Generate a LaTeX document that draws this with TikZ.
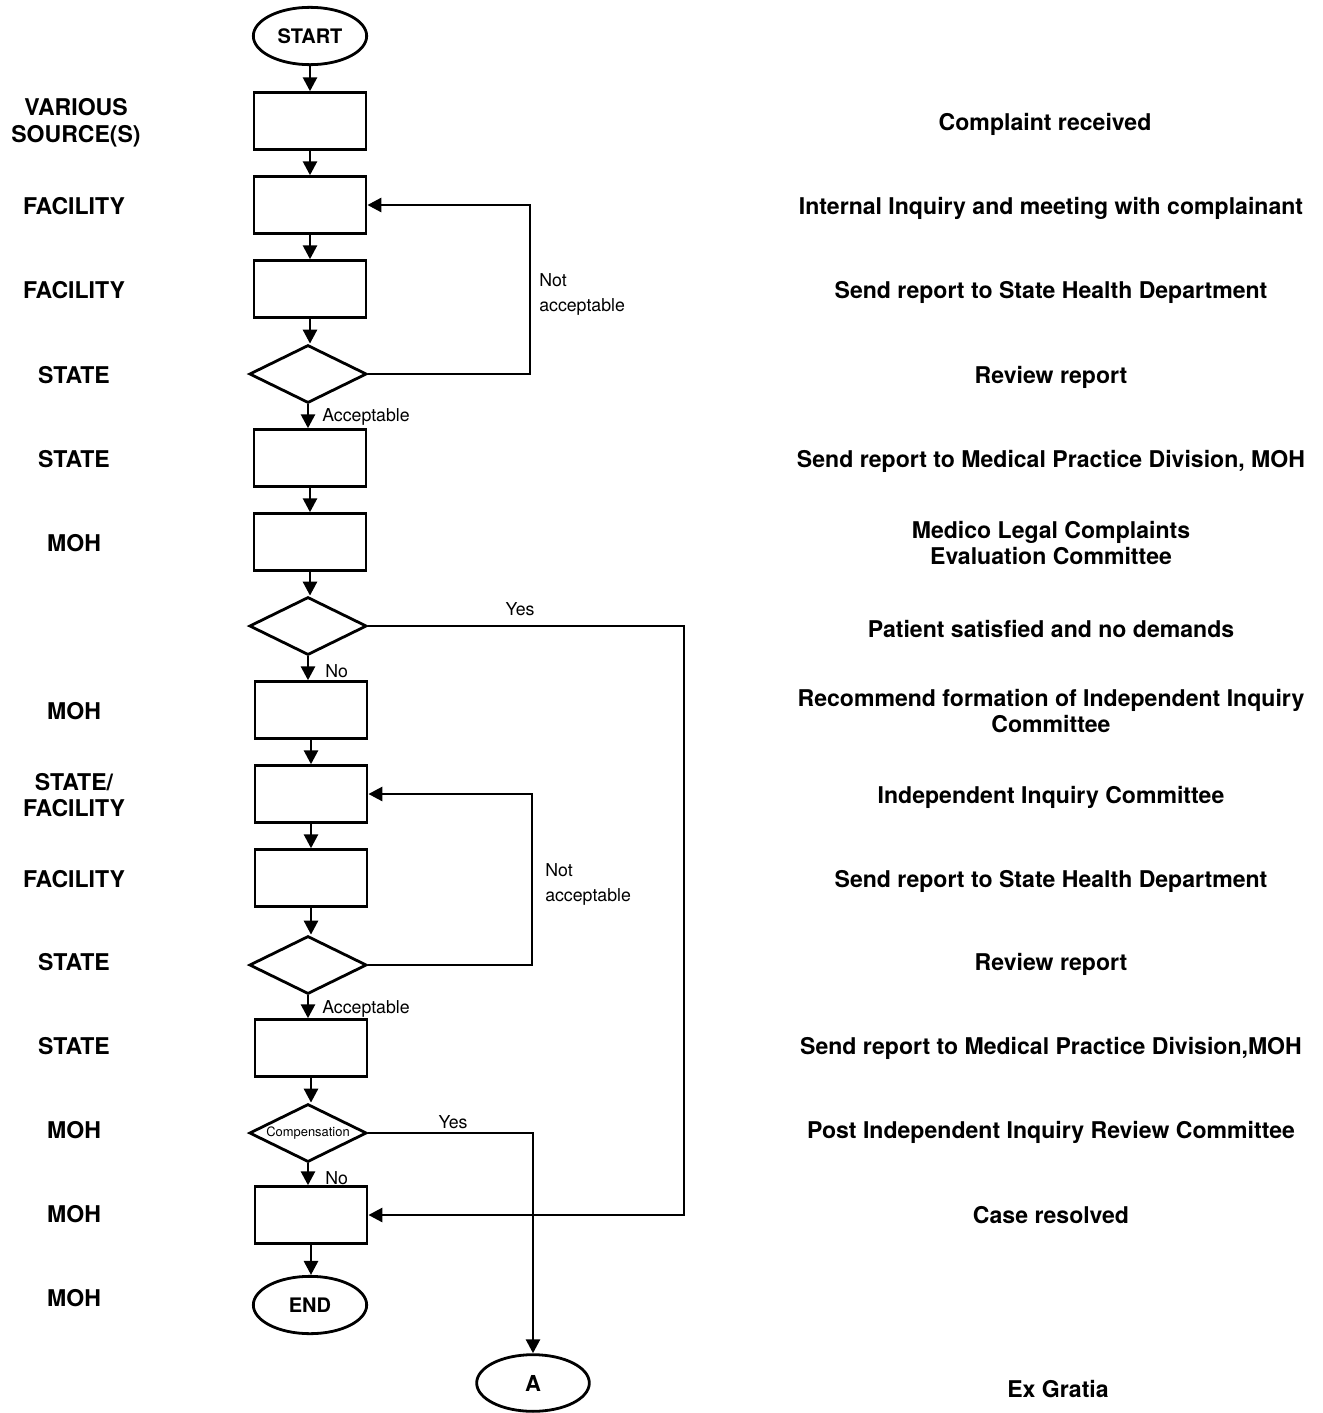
\documentclass[tikz,border=0pt]{standalone}
\usepackage{fontspec}
\setmainfont{TeX Gyre Heros}
\usetikzlibrary{shapes.geometric,arrows.meta}
\begin{document}
\begin{tikzpicture}[x=0.75pt,y=-0.75pt,
  every node/.style={inner sep=0pt},
  stepbox/.style={draw,line width=2.1pt,rectangle,minimum width=84pt,minimum height=42.5pt},
  decision/.style={draw,line width=2.1pt,diamond,shape aspect=2,minimum width=88pt,minimum height=43.5pt,font=\fontsize{9.7pt}{11pt}\selectfont},
  terminal/.style={draw,line width=2.1pt,ellipse,minimum width=85pt,minimum height=43pt,font=\fontsize{15pt}{18pt}\selectfont\bfseries},
  role/.style={align=center,font=\fontsize{17.3pt}{20pt}\selectfont\bfseries},
  task/.style={align=center,font=\fontsize{17.3pt}{20pt}\selectfont\bfseries},
  note/.style={align=left,font=\fontsize{13.3pt}{18.8pt}\selectfont},
  flow/.style={line width=2.1pt,-{Triangle[width=10.5pt,length=10.5pt]}}]
\useasboundingbox (0,0) rectangle (1323,1413);

% main column
\node[terminal] (start) at (310,36) {START};
\node[stepbox] (b1) at (310,121) {};
\node[stepbox] (b2) at (310,205) {};
\node[stepbox] (b3) at (310,289) {};
\node[decision] (d1) at (308,374) {};
\node[stepbox] (b4) at (310,458) {};
\node[stepbox] (b5) at (310,542) {};
\node[decision] (d2) at (308,626) {};
\node[stepbox] (b6) at (311,710) {};
\node[stepbox] (b7) at (311,794) {};
\node[stepbox] (b8) at (311,878) {};
\node[decision] (d3) at (308,965) {};
\node[stepbox] (b9) at (311,1048) {};
\node[decision] (d4) at (308,1133) {Compensation};
\node[stepbox] (b10) at (311,1215) {};
\node[terminal] (end) at (310,1305) {END};
\node[terminal,minimum width=84.5pt,minimum height=42.5pt,font=\fontsize{16.5pt}{18pt}\selectfont\bfseries] (exg) at (533,1383) {A};

% vertical flow
\foreach \a/\b in {start/b1,b1/b2,b2/b3,b3/d1,d1/b4,b4/b5,b5/d2,d2/b6,b6/b7,b7/b8,b8/d3,d3/b9,b9/d4,d4/b10,b10/end}
  \draw[flow] (\a.south) -- (\a.south |- \b.north);

% feedback and bypass routes
\coordinate (c1) at (530,205);
\coordinate (c2) at (684,1215);
\coordinate (c3) at (532,794);
\draw[flow] (d1.east) -| (c1) -- (b2.east);
\draw[flow] (d3.east) -| (c3) -- (b7.east);
\draw[flow] (d2.east) -| (c2) -- (b10.east);
\draw[flow] (d4.east) -| (exg.north);

% connector labels
\node[note,anchor=west] (n1) at (539,294) {Not\\acceptable};
\node[note,anchor=west] (n2) at (545,884) {Not\\acceptable};
\node[note,anchor=west] (acc1) at (322,417) {Acceptable};
\node[note,anchor=west] (acc2) at (322,1009) {Acceptable};
\node[note] (yes1) at (520,609) {Yes};
\node[note] (yes2) at (453,1122) {Yes};
\node[note,anchor=west] (no1) at (325,671) {No};
\node[note,anchor=west] (no2) at (325,1178) {No};

% responsible party
\node[role] (r1) at (76,123) {VARIOUS\\SOURCE(S)};
\node[role] (r2) at (74,206) {FACILITY};
\node[role] (r3) at (74,290) {FACILITY};
\node[role] (r4) at (74,375) {STATE};
\node[role] (r5) at (74,459) {STATE};
\node[role] (r6) at (74,543) {MOH};
\node[role] (r7) at (74,711) {MOH};
\node[role] (r8) at (74,795) {STATE/\\FACILITY};
\node[role] (r9) at (74,879) {FACILITY};
\node[role] (r10) at (74,962) {STATE};
\node[role] (r11) at (74,1046) {STATE};
\node[role] (r12) at (74,1130) {MOH};
\node[role] (r13) at (74,1214) {MOH};
\node[role] (r14) at (74,1298) {MOH};

% activity descriptions
\node[task] (t1) at (1045,124) {Complaint received};
\node[task] (t2) at (1051,208) {Internal Inquiry and meeting with complainant};
\node[task] (t3) at (1051,292) {Send report to State Health Department};
\node[task] (t4) at (1051,377) {Review report};
\node[task] (t5) at (1051,461) {Send report to Medical Practice Division, MOH};
\node[task] (t6) at (1051,543) {Medico Legal Complaints\\Evaluation Committee};
\node[task] (t7) at (1051,629) {Patient satisfied and no demands};
\node[task] (t8) at (1051,711) {Recommend formation of Independent Inquiry\\Committee};
\node[task] (t9) at (1051,797) {Independent Inquiry Committee};
\node[task] (t10) at (1051,881) {Send report to State Health Department};
\node[task] (t11) at (1051,964) {Review report};
\node[task] (t12) at (1051,1048) {Send report to Medical Practice Division,MOH};
\node[task] (t13) at (1051,1132) {Post Independent Inquiry Review Committee};
\node[task] (t14) at (1051,1215) {Case resolved};
\node[task] (t15) at (1058,1389) {Ex Gratia};
\end{tikzpicture}
\end{document}
